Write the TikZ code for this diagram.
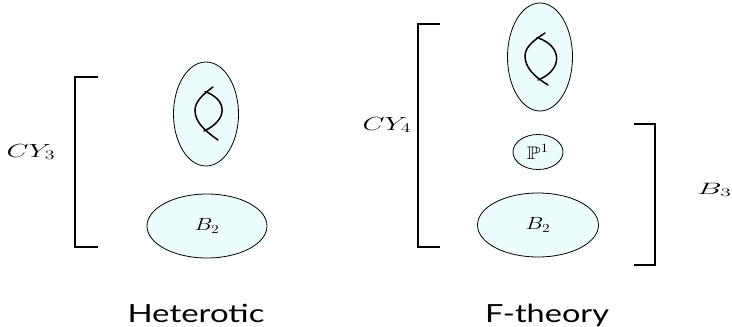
\documentclass[tikz,border=0pt]{standalone}
\usepackage{amssymb}
\usepackage{fontspec}
\newfontfamily\titlefont{Lato}
\usetikzlibrary{shapes.geometric}
\definecolor{fillcyan}{RGB}{237,252,253}
\tikzset{
  blob/.style={ellipse, draw=black, line width=0.8pt, fill=fillcyan, inner sep=0pt},
  bracketline/.style={line width=1.8pt},
  fibrecurve/.style={line width=1.5pt, line cap=round},
  mathlabel/.style={inner sep=0pt, font=\LARGE},
  title/.style={inner sep=0pt, font=\titlefont\fontsize{25}{30}\selectfont}
}
\begin{document}
\begin{tikzpicture}[x=1pt, y=-1pt]
\useasboundingbox (0,0) rectangle (732,327);
% Heterotic side
\node[blob, minimum width=65pt, minimum height=104pt] (f1) at (206,114) {};
\node[blob, minimum width=120pt, minimum height=64pt, font=\LARGE] (b1) at (207,226) {\scalebox{1.3}[1.02]{$B_2$}};
\begin{scope}[shift={(f1.center)}]
  \draw[fibrecurve] (7,-27) .. controls (-3,-20) and (-11,-12) .. (-11,-4)
                            .. controls (-11,8) and (-2,16) .. (12,26);
  \draw[fibrecurve] (-1,-22.5) .. controls (22,-14) and (22,6) .. (-2,17);
\end{scope}
\coordinate (l1t) at (75,77);
\coordinate (l1b) at (75,247);
\draw[bracketline] (98,77) -- (l1t) -- (l1b) -- (98,247);
\node[mathlabel] (cy3) at (31,152) {\scalebox{1.65}[1.1]{$CY_3$}};
% F-theory side
\node[blob, minimum width=65pt, minimum height=108pt] (f2) at (540,57) {};
\node[blob, minimum width=50pt, minimum height=35pt, font=\LARGE] (p1) at (538,152) {\scalebox{1.3}[1.05]{$\mathbb{P}^1$}};
\node[blob, minimum width=121pt, minimum height=64pt, font=\LARGE] (b2) at (538,225) {\scalebox{1.3}[1.02]{$B_2$}};
\begin{scope}[shift={(f2.center)}]
  \draw[fibrecurve] (5,-24) .. controls (-6,-17) and (-15,-10) .. (-15,-1)
                            .. controls (-15,11) and (-5,20) .. (8,28);
  \draw[fibrecurve] (-3,-19.5) .. controls (23,-11) and (23,13) .. (-2,23);
\end{scope}
\coordinate (l2t) at (418,24);
\coordinate (l2b) at (418,247);
\draw[bracketline] (440,24) -- (l2t) -- (l2b) -- (440,247);
\node[mathlabel] (cy4) at (387,125) {\scalebox{1.65}[1.1]{$CY_4$}};
\coordinate (r2t) at (655,124);
\coordinate (r2b) at (655,265);
\draw[bracketline] (634,124) -- (r2t) -- (r2b) -- (634,265);
\node[mathlabel, anchor=west] (b3) at (697,190) {\scalebox{1.8}[0.95]{$B_3$}};
% titles
\node[title, anchor=base] (het) at (196,322) {\scalebox{1.32}[1]{Heterotic}};
\node[title, anchor=base] (fth) at (547,322) {\scalebox{1.3}[1]{F-theory}};
\end{tikzpicture}
\end{document}
